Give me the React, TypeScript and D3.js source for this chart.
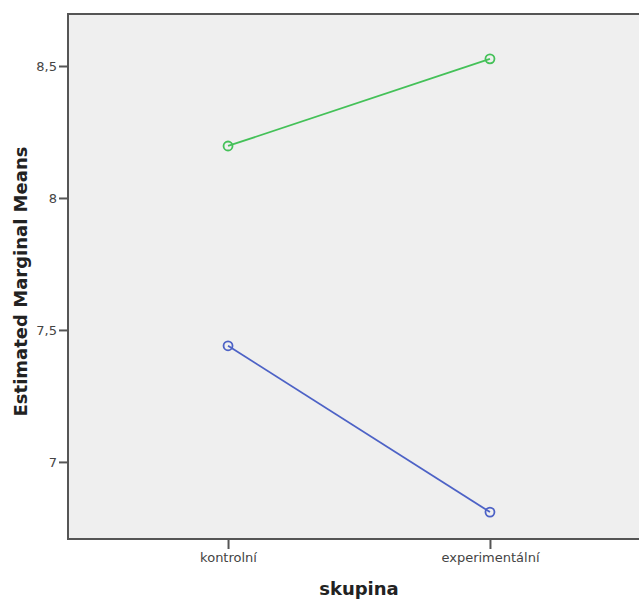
import { useEffect, useRef } from 'react'
import * as d3 from 'd3'

// categories on the x axis
const groups = ['kontrolní', 'experimentální']
// estimated marginal means, one line per series
const greenMeans = [8.197, 8.527]
const blueMeans = [7.44, 6.81]
const yTicks = [7, 7.5, 8, 8.5]

const seriesList = [
	{ name: 'green', values: greenMeans, color: '#44c158' },
	{ name: 'blue', values: blueMeans, color: '#4d62c6' },
]

const tickFont = '13px "DejaVu Sans", sans-serif'
const titleFont = 'bold 18px "DejaVu Sans", sans-serif'

export default function App() {
	const ref = useRef<SVGSVGElement>(null)

	const width = 639
	const height = 600
	const plot = { left: 68, top: 14, right: 650, bottom: 539 }

	useEffect(() => {
		const svg = d3.select(ref.current)
		svg.selectAll('*').remove()

		const x = d3
			.scalePoint()
			.domain(groups)
			.range([plot.left, plot.right])
			.padding(0.611)

		const y = d3
			.scaleLinear()
			.domain([6.708, 8.697])
			.range([plot.bottom, plot.top])

		// plot background
		svg
			.append('rect')
			.attr('x', plot.left)
			.attr('y', plot.top)
			.attr('width', plot.right - plot.left)
			.attr('height', plot.bottom - plot.top)
			.attr('fill', '#efefef')

		// frame lines (top, left, bottom)
		svg
			.append('path')
			.attr(
				'd',
				`M${plot.right},${plot.top}H${plot.left}V${plot.bottom}H${plot.right}`
			)
			.attr('fill', 'none')
			.attr('stroke', '#555')
			.attr('stroke-width', 2)

		// y axis
		const yAxis = d3
			.axisLeft(y)
			.tickValues(yTicks)
			.tickSize(9)
			.tickPadding(2)
			.tickFormat((d: any) => String(d).replace('.', ','))
		const yg = svg
			.append('g')
			.attr('transform', `translate(${plot.left},0)`)
			.call(yAxis)
		yg.select('.domain').remove()
		yg.selectAll('line').attr('stroke', '#555').attr('stroke-width', 2)
		yg.selectAll('text').attr('fill', '#444').style('font', tickFont)

		// x axis
		const xAxis = d3.axisBottom(x).tickSize(10).tickPadding(4)
		const xg = svg
			.append('g')
			.attr('transform', `translate(0,${plot.bottom})`)
			.call(xAxis)
		xg.select('.domain').remove()
		xg.selectAll('line').attr('stroke', '#555').attr('stroke-width', 2)
		xg.selectAll('text').attr('fill', '#444').style('font', tickFont)

		// lines and open circle markers
		const line = d3
			.line<number>()
			.x((_, i) => x(groups[i]) as number)
			.y((d) => y(d))

		seriesList.forEach((s) => {
			svg
				.append('path')
				.datum(s.values)
				.attr('d', line)
				.attr('fill', 'none')
				.attr('stroke', s.color)
				.attr('stroke-width', 1.8)

			svg
				.append('g')
				.selectAll('circle')
				.data(s.values)
				.enter()
				.append('circle')
				.attr('cx', (_, i) => x(groups[i]) as number)
				.attr('cy', (d) => y(d))
				.attr('r', 4.5)
				.attr('fill', 'none')
				.attr('stroke', s.color)
				.attr('stroke-width', 1.8)
		})

		// axis titles
		svg
			.append('text')
			.attr('x', (plot.left + plot.right) / 2)
			.attr('y', 595)
			.attr('text-anchor', 'middle')
			.attr('fill', '#222')
			.style('font', titleFont)
			.text('skupina')

		svg
			.append('text')
			.attr(
				'transform',
				`translate(27,${(plot.top + plot.bottom) / 2 + 5}) rotate(-90)`
			)
			.attr('text-anchor', 'middle')
			.attr('fill', '#222')
			.style('font', titleFont)
			.text('Estimated Marginal Means')
	}, [])

	return (
		<svg
			ref={ref}
			width={width}
			height={height}
			style={{ position: 'absolute', left: 0, top: 0, background: '#fff' }}
		/>
	)
}
